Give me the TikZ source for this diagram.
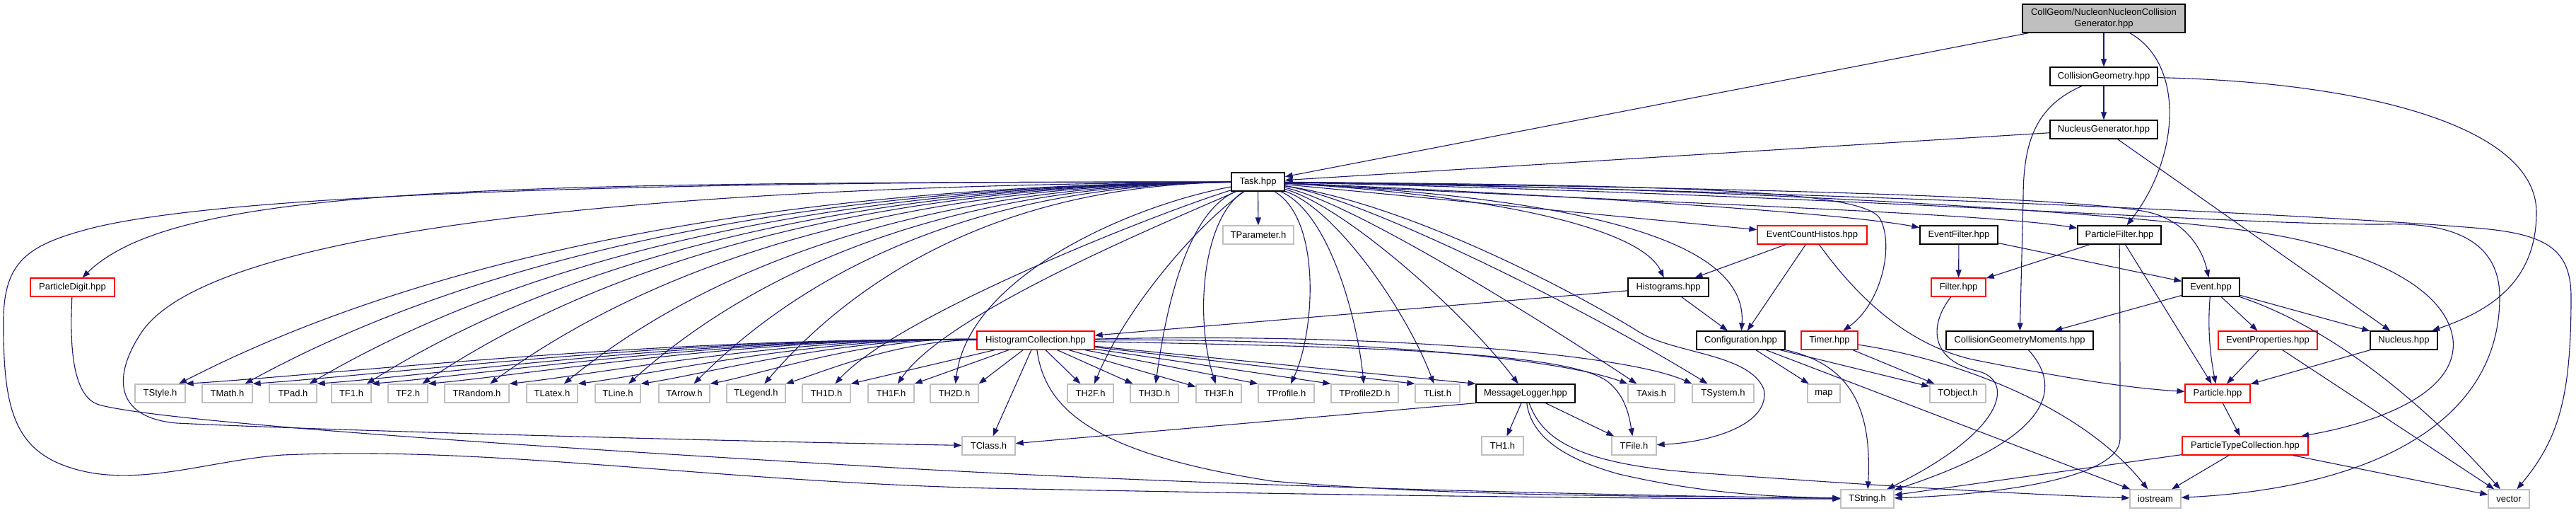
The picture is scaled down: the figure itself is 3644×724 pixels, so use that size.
\documentclass[tikz,border=0pt]{standalone}
\usepackage{fontspec}
\setmainfont{Liberation Sans}
\usetikzlibrary{arrows.meta}
\definecolor{eb}{HTML}{191970}
\definecolor{gb}{HTML}{BFBFBF}
\newcommand{\nd}[6]{\node[#1,minimum width={(#4-#3)*1pt}] (#2) at ({(#3+#4)/2},#5) {#6};}
\tikzset{
  nb/.style={draw=black, line width=1.3pt, fill=white, inner sep=0pt, minimum height=26pt, font=\fontsize{13}{15.5}\selectfont, text=black},
  ng/.style={nb, draw=gb},
  nr/.style={nb, draw=red},
  e/.style={draw=eb, line width=1.1pt, -{Triangle[length=11pt,width=8pt]}},
}
\begin{document}
\begin{tikzpicture}[x=1pt,y=-1pt]
\fill[white] (0,0) rectangle (3644,724);
\useasboundingbox (0,0) rectangle (3644,724);
% ---------------- nodes ----------------
\node[nb, fill=gb, minimum width=230pt, minimum height=40pt, align=center] (top) at (2976,26) {CollGeom/NucleonNucleonCollision\\Generator.hpp};
\nd{nb}{cg}{2900}{3052}{108}{CollisionGeometry.hpp}
\nd{nb}{ng}{2900}{3052}{183}{NucleusGenerator.hpp}
\nd{nb}{task}{1742}{1817}{257}{Task.hpp}
\nd{ng}{tpar}{1730}{1830}{332}{TParameter.h}
\nd{nr}{ech}{2486}{2641}{332}{EventCountHistos.hpp}
\nd{nb}{ef}{2716}{2826}{332}{EventFilter.hpp}
\nd{nb}{pf}{2939}{3057}{332}{ParticleFilter.hpp}
\nd{nr}{pd}{43}{162}{406}{ParticleDigit.hpp}
\nd{nb}{hist}{2303}{2417}{406}{Histograms.hpp}
\nd{nr}{filt}{2732}{2809}{406}{Filter.hpp}
\nd{nb}{ev}{3087}{3168}{406}{Event.hpp}
\nd{nr}{hc}{1382}{1548}{481}{HistogramCollection.hpp}
\nd{nb}{conf}{2400}{2525}{481}{Configuration.hpp}
\nd{nr}{timer}{2548}{2628}{481}{Timer.hpp}
\nd{nb}{cgm}{2753}{2961}{481}{CollisionGeometryMoments.hpp}
\nd{nr}{ep}{3138}{3278}{481}{EventProperties.hpp}
\nd{nb}{nuc}{3353}{3448}{481}{Nucleus.hpp}
\nd{ng}{tstyle}{191}{262}{556}{TStyle.h}
\nd{ng}{tmath}{286}{357}{556}{TMath.h}
\nd{ng}{tpad}{381}{448}{556}{TPad.h}
\nd{ng}{tfa}{469}{525}{556}{TF1.h}
\nd{ng}{tfb}{549}{605}{556}{TF2.h}
\nd{ng}{trand}{629}{720}{556}{TRandom.h}
\nd{ng}{tlatex}{745}{817}{556}{TLatex.h}
\nd{ng}{tline}{842}{906}{556}{TLine.h}
\nd{ng}{tarrow}{932}{1004}{556}{TArrow.h}
\nd{ng}{tlegend}{1028}{1111}{556}{TLegend.h}
\nd{ng}{thad}{1135}{1203}{556}{TH1D.h}
\nd{ng}{thaf}{1228}{1293}{556}{TH1F.h}
\nd{ng}{thbd}{1316}{1384}{556}{TH2D.h}
\nd{ng}{thbf}{1510}{1575}{556}{TH2F.h}
\nd{ng}{thcd}{1599}{1667}{556}{TH3D.h}
\nd{ng}{thcf}{1692}{1756}{556}{TH3F.h}
\nd{ng}{tprof}{1780}{1859}{556}{TProfile.h}
\nd{ng}{tprofb}{1883}{1978}{556}{TProfile2D.h}
\nd{ng}{tlist}{2002}{2065}{556}{TList.h}
\nd{nb}{ml}{2088}{2228}{556}{MessageLogger.hpp}
\nd{ng}{taxis}{2303}{2369}{556}{TAxis.h}
\nd{ng}{tsys}{2394}{2481}{556}{TSystem.h}
\nd{ng}{map}{2557}{2603}{556}{map}
\nd{ng}{tobj}{2730}{2809}{556}{TObject.h}
\nd{nr}{part}{3091}{3183}{556}{Particle.hpp}
\nd{ng}{tclass}{1361}{1436}{630}{TClass.h}
\nd{ng}{tha}{2096}{2155}{630}{TH1.h}
\nd{ng}{tfile}{2280}{2343}{630}{TFile.h}
\nd{nr}{ptc}{3087}{3265}{630}{ParticleTypeCollection.hpp}
\nd{ng}{tstr}{2604}{2679}{705}{TString.h}
\nd{ng}{ios}{3013}{3085}{705}{iostream}
\nd{ng}{vec}{3520}{3578}{705}{vector}
% ---------------- edges ----------------
% top node
\draw[e] (top) -- (task);
\draw[e] (top) -- (cg);
\draw[e] (top) .. controls (3090,90) and (3085,220) .. (pf);
% CollisionGeometry
\draw[e] (cg) -- (ng);
\draw[e] (cg) .. controls (2880,150) and (2862,200) .. (2862,280) -- (cgm);
\draw[e] (cg) .. controls (3350,116) and (3588,180) .. (3588,300) .. controls (3588,400) and (3520,440) .. (nuc);
% NucleusGenerator
\draw[e] (ng) -- (task);
\draw[e] (ng) -- (nuc);
% Task -> left T row
\draw[e] (task) .. controls (984,262) and (530,400) .. (tstyle);
\draw[e] (task) .. controls (1032,262) and (606,400) .. (tmath);
\draw[e] (task) .. controls (1078,262) and (680,400) .. (tpad);
\draw[e] (task) .. controls (1120,262) and (746,400) .. (tfa);
\draw[e] (task) .. controls (1160,262) and (810,400) .. (tfb);
\draw[e] (task) .. controls (1208,262) and (888,400) .. (trand);
\draw[e] (task) .. controls (1262,262) and (973,400) .. (tlatex);
\draw[e] (task) .. controls (1308,262) and (1048,400) .. (tline);
\draw[e] (task) .. controls (1355,262) and (1123,400) .. (tarrow);
\draw[e] (task) .. controls (1406,262) and (1204,400) .. (tlegend);
\draw[e] (task) .. controls (1640,300) and (1270,445) .. (thad);
\draw[e] (task) .. controls (1660,310) and (1340,440) .. (thaf);
\draw[e] (task) .. controls (1600,290) and (1370,390) .. (thbd);
\draw[e] (task) .. controls (1690,320) and (1590,440) .. (thbf);
\draw[e] (task) .. controls (1680,300) and (1650,430) .. (thcd);
\draw[e] (task) .. controls (1700,310) and (1690,450) .. (thcf);
% Task -> right T row
\draw[e] (task) .. controls (1870,310) and (1860,470) .. (tprof);
\draw[e] (task) .. controls (1880,300) and (1920,450) .. (tprofb);
\draw[e] (task) .. controls (1890,295) and (1990,440) .. (tlist);
\draw[e] (task) .. controls (1900,290) and (2070,440) .. (ml);
\draw[e] (task) .. controls (1910,285) and (2160,440) .. (taxis);
\draw[e] (task) .. controls (1930,280) and (2250,440) .. (tsys);
% Task -> others
\draw[e] (task) -- (tpar);
\draw[e] (task) .. controls (950,262) and (300,320) .. (200,470) .. controls (160,530) and (160,590) .. (250,598) .. controls (500,610) and (1100,625) .. (tclass);
\draw[e] (task) .. controls (700,258) and (250,262) .. (pd);
\draw[e] (task) .. controls (900,256) and (300,275) .. (120,325) .. controls (40,347) and (6,370) .. (5,450) .. controls (4,580) and (20,640) .. (110,664) .. controls (200,688) and (300,650) .. (400,643) .. controls (700,630) and (1000,680) .. (1400,690) .. controls (1900,700) and (2300,705) .. (tstr);
\draw[e] (task) .. controls (2100,275) and (2320,320) .. (hist);
\draw[e] (task) .. controls (2350,285) and (2470,370) .. (conf);
\draw[e] (task) -- (ech);
\draw[e] (task) .. controls (2200,275) and (2600,300) .. (ef);
\draw[e] (task) .. controls (2300,285) and (2800,300) .. (pf);
\draw[e] (task) .. controls (2500,265) and (2950,280) .. (3040,300) .. controls (3090,312) and (3115,350) .. (ev);
\draw[e] (task) .. controls (2400,262) and (2640,270) .. (2660,310) .. controls (2680,350) and (2660,430) .. (timer);
\draw[e] (task) .. controls (2000,290) and (2240,420) .. (2320,470) .. controls (2370,500) and (2475,500) .. (2495,550) .. controls (2505,600) and (2420,625) .. (tfile);
\draw[e] (task) .. controls (2500,265) and (3050,305) .. (3205,330) .. controls (3330,350) and (3460,400) .. (3470,480) .. controls (3478,560) and (3350,600) .. (ptc);
\draw[e] (task) .. controls (2600,275) and (3150,318) .. (3370,317) .. controls (3450,314) and (3536,330) .. (3536,420) .. controls (3536,600) and (3350,690) .. (ios);
\draw[e] (task) .. controls (2600,270) and (3300,305) .. (3500,322) .. controls (3600,330) and (3637,350) .. (3637,420) .. controls (3637,560) and (3620,620) .. (vec);
% HistogramCollection
\draw[e] (hc) .. controls (934,476) and (486,528) .. (tstyle.north east);
\draw[e] (hc) .. controls (972,476) and (562,528) .. (tmath.north east);
\draw[e] (hc) .. controls (1008,476) and (635,528) .. (tpad.north east);
\draw[e] (hc) .. controls (1039,476) and (696,528) .. (tfa.north east);
\draw[e] (hc) .. controls (1071,476) and (760,528) .. (tfb.north east);
\draw[e] (hc) .. controls (1117,476) and (852,528) .. (trand.north east);
\draw[e] (hc) .. controls (1156,476) and (930,528) .. (tlatex.north east);
\draw[e] (hc) .. controls (1192,476) and (1001,528) .. (tline.north east);
\draw[e] (hc) .. controls (1231,476) and (1080,528) .. (tarrow.north east);
\draw[e] (hc) .. controls (1274,480) and (1165,525) .. (tlegend.north east);
\draw[e] (hc) -- (thad.north east);
\draw[e] (hc) -- (thaf.north east);
\draw[e] (hc) -- (thbd.north east);
\draw[e] (hc) -- (thbf);
\draw[e] (hc) -- (thcd);
\draw[e] (hc) -- (thcf);
\draw[e] (hc) -- (tprof.north west);
\draw[e] (hc) -- (tprofb.north west);
\draw[e] (hc) -- (tlist.north west);
\draw[e] (hc) -- (ml.north west);
\draw[e] (hc) .. controls (1900,478) and (2200,505) .. (taxis.north west);
\draw[e] (hc) .. controls (1950,470) and (2300,500) .. (tsys.north west);
\draw[e] (hc) .. controls (1900,490) and (2220,495) .. (2275,540) .. controls (2300,560) and (2305,590) .. (tfile);
\draw[e] (hc) -- (tclass);
\draw[e] (hc) .. controls (1478,575) and (1540,640) .. (1800,680) .. controls (2100,705) and (2400,700) .. (tstr);
% Histograms
\draw[e] (hist) -- (hc);
\draw[e] (hist) -- (conf);
% EventCountHistos
\draw[e] (ech) -- (hist);
\draw[e] (ech) -- (conf);
\draw[e] (ech) .. controls (2620,410) and (2690,485) .. (2790,508) .. controls (2900,530) and (3000,548) .. (part);
% EventFilter
\draw[e] (ef) -- (filt);
\draw[e] (ef) -- (ev);
% ParticleFilter
\draw[e] (pf) -- (filt);
\draw[e] (pf) -- (part);
\draw[e] (pf) .. controls (2999,450) and (2999,560) .. (2999,620) .. controls (2999,680) and (2800,700) .. (tstr);
% Filter
\draw[e] (filt) .. controls (2728,460) and (2730,510) .. (2800,525) .. controls (2850,540) and (2835,610) .. (tstr);
% Event
\draw[e] (ev) -- (cgm);
\draw[e] (ev) -- (ep);
\draw[e] (ev) -- (nuc);
\draw[e] (ev) .. controls (3122,470) and (3128,510) .. (part);
\draw[e] (ev) .. controls (3290,460) and (3420,560) .. (vec);
% EventProperties
\draw[e] (ep) -- (part);
\draw[e] (ep) -- (vec);
% Nucleus
\draw[e] (nuc) -- (part);
% Particle
\draw[e] (part) -- (ptc);
% ParticleTypeCollection
\draw[e] (ptc) -- (tstr);
\draw[e] (ptc) -- (ios);
\draw[e] (ptc) -- (vec);
% CollisionGeometryMoments
\draw[e] (cgm) .. controls (2920,550) and (2900,620) .. (tstr);
% Configuration
\draw[e] (conf) -- (map);
\draw[e] (conf) -- (tobj);
\draw[e] (conf) -- (ios);
\draw[e] (conf) .. controls (2620,515) and (2648,580) .. (tstr);
% Timer
\draw[e] (timer) -- (tobj);
\draw[e] (timer) .. controls (2780,510) and (2950,580) .. (ios);
% MessageLogger
\draw[e] (ml.south west) -- (tclass);
\draw[e] (ml) -- (tha);
\draw[e] (ml) -- (tfile);
\draw[e] (ml) .. controls (2165,610) and (2200,645) .. (2290,670) .. controls (2420,700) and (2520,702) .. (tstr);
\draw[e] (ml) .. controls (2180,615) and (2220,655) .. (2400,668) .. controls (2700,690) and (2900,700) .. (ios);
% ParticleDigit
\draw[e] (pd) .. controls (99,480) and (100,560) .. (140,572) .. controls (240,600) and (900,640) .. (1300,663) .. controls (1800,690) and (2300,700) .. (tstr);
\end{tikzpicture}
\end{document}
